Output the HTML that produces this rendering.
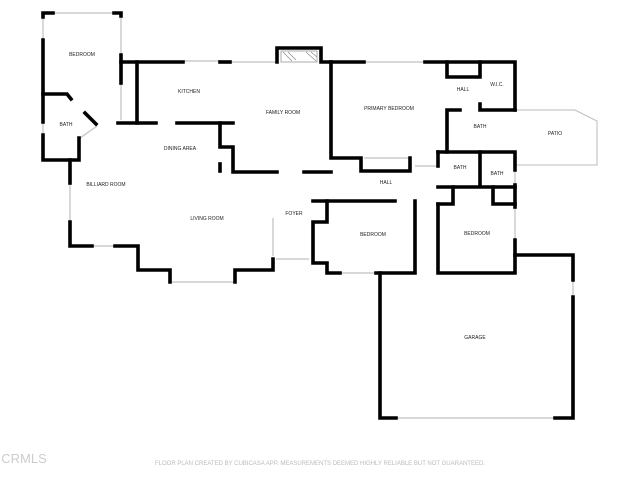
<!DOCTYPE html>
<html><head><meta charset="utf-8"><style>
html,body{margin:0;padding:0;background:#fff;}
svg{display:block}
text{font-family:"Liberation Sans",sans-serif;font-size:5px;fill:#222;text-anchor:middle}
</style></head><body>
<svg width="640" height="480" viewBox="0 0 640 480">
<g fill="none" stroke="#ccc" stroke-width="1.5">
<line x1="53" y1="13" x2="114" y2="13"/>
<line x1="43" y1="17" x2="43" y2="40"/>
<line x1="43" y1="122" x2="43" y2="135"/>
<line x1="121" y1="16" x2="121" y2="55"/>
<line x1="121" y1="83" x2="121" y2="120"/>
<line x1="183" y1="61" x2="220" y2="61"/>
<line x1="230" y1="62" x2="277" y2="62"/>
<line x1="364" y1="62" x2="425" y2="62"/>
<line x1="70" y1="183" x2="70" y2="222"/>
<line x1="92" y1="246" x2="115" y2="246"/>
<line x1="170" y1="282" x2="235" y2="282"/>
<line x1="273" y1="218" x2="273" y2="256"/>
<line x1="276" y1="259" x2="309" y2="259"/>
<line x1="340" y1="273" x2="376" y2="273"/>
<line x1="515" y1="170" x2="515" y2="185"/>
<line x1="515" y1="207" x2="515" y2="240"/>
<line x1="396" y1="418" x2="555" y2="418"/>
<line x1="573" y1="280" x2="573" y2="297"/>
<line x1="97" y1="126" x2="80" y2="138"/>
<line x1="67" y1="95" x2="72" y2="99"/>
<line x1="364" y1="158" x2="410" y2="158"/>
<line x1="415" y1="166" x2="436" y2="166"/>
<polyline points="515,110 575,110 597,121 597,165 515,165" stroke="#bbb" stroke-width="1"/>
</g>
<g stroke="#888" stroke-width="0.7">
<rect x="281" y="51" width="36" height="11" fill="none"/>
<line x1="283" y1="52" x2="292" y2="61"/><line x1="288" y1="52" x2="296" y2="60"/>
<line x1="306" y1="52" x2="316" y2="61"/><line x1="311" y1="52" x2="317" y2="57"/>
</g>
<g fill="none" stroke="#000" stroke-width="3.6" stroke-linecap="square" stroke-linejoin="miter">
<polyline points="53,13 43,13 43,17"/>
<polyline points="114,13 121,13 121,16"/>
<polyline points="43,40 43,122"/>
<polyline points="43,135 43,160 79,160 79,138"/>
<line x1="70" y1="160" x2="70" y2="183"/>
<polyline points="121,55 121,62 183,62"/>
<line x1="121" y1="62" x2="121" y2="83"/>
<line x1="220" y1="62" x2="230" y2="62"/>
<polyline points="277,62 277,48 321,48 321,62 331,62"/>
<line x1="331" y1="62" x2="364" y2="62"/>
<polyline points="425,62 515,62 515,110"/>
<polyline points="137,62 137,123"/>
<line x1="118" y1="123" x2="156" y2="123"/>
<line x1="177" y1="123" x2="233" y2="123"/>
<polyline points="220,123 220,147 233,147 233,172 277,172"/>
<line x1="220" y1="164" x2="220" y2="171"/>
<line x1="304" y1="172" x2="331" y2="172"/>
<polyline points="331,62 331,158 361,158 361,171 410,171 410,158"/>
<polyline points="43,94 67,94 71,99"/>
<line x1="85" y1="113" x2="96" y2="124"/>
<polyline points="70,222 70,246 92,246"/>
<polyline points="115,246 138,246 138,270 170,270 170,282"/>
<polyline points="235,282 235,270 273,270 273,259"/>
<polyline points="313,201 395,201"/>
<polyline points="415,201 415,273 376,273"/>
<polyline points="340,273 327,273 327,263 313,263 313,222 327,222 327,201"/>
<polyline points="447,62 447,77 480,77 480,62"/>
<polyline points="480,104 480,110 515,110"/>
<polyline points="460,110 447,110 447,152"/>
<polyline points="438,152 515,152 515,170"/>
<line x1="438" y1="152" x2="438" y2="166"/>
<line x1="480" y1="152" x2="480" y2="186"/>
<line x1="438" y1="187" x2="515" y2="187"/>
<polyline points="453,187 453,204 438,204"/>
<polyline points="493,187 493,204 515,204"/>
<polyline points="438,204 438,273 515,273 515,240"/>
<line x1="515" y1="185" x2="515" y2="207"/>
<polyline points="515,255 573,255 573,280"/>
<polyline points="573,297 573,418 555,418"/>
<polyline points="396,418 380,418 380,273"/>
</g>
<g>
<text x="82" y="56">BEDROOM</text>
<text x="66" y="126">BATH</text>
<text x="189" y="93">KITCHEN</text>
<text x="283" y="114">FAMILY ROOM</text>
<text x="180" y="150">DINING AREA</text>
<text x="106" y="186">BILLIARD ROOM</text>
<text x="207" y="220">LIVING ROOM</text>
<text x="294" y="215">FOYER</text>
<text x="389" y="110">PRIMARY BEDROOM</text>
<text x="463" y="91">HALL</text>
<text x="497" y="86">W.I.C.</text>
<text x="480" y="128">BATH</text>
<text x="555" y="135">PATIO</text>
<text x="386" y="184">HALL</text>
<text x="460" y="169">BATH</text>
<text x="497" y="175">BATH</text>
<text x="373" y="236">BEDROOM</text>
<text x="477" y="235">BEDROOM</text>
<text x="475" y="339">GARAGE</text>
<text x="320" y="465" style="font-size:6px;fill:#bbb">FLOOR PLAN CREATED BY CUBICASA APP. MEASUREMENTS DEEMED HIGHLY RELIABLE BUT NOT GUARANTEED.</text>
<text x="24" y="463" style="font-size:13px;fill:#ccc">CRMLS</text>
</g>
</svg>
</body></html>
